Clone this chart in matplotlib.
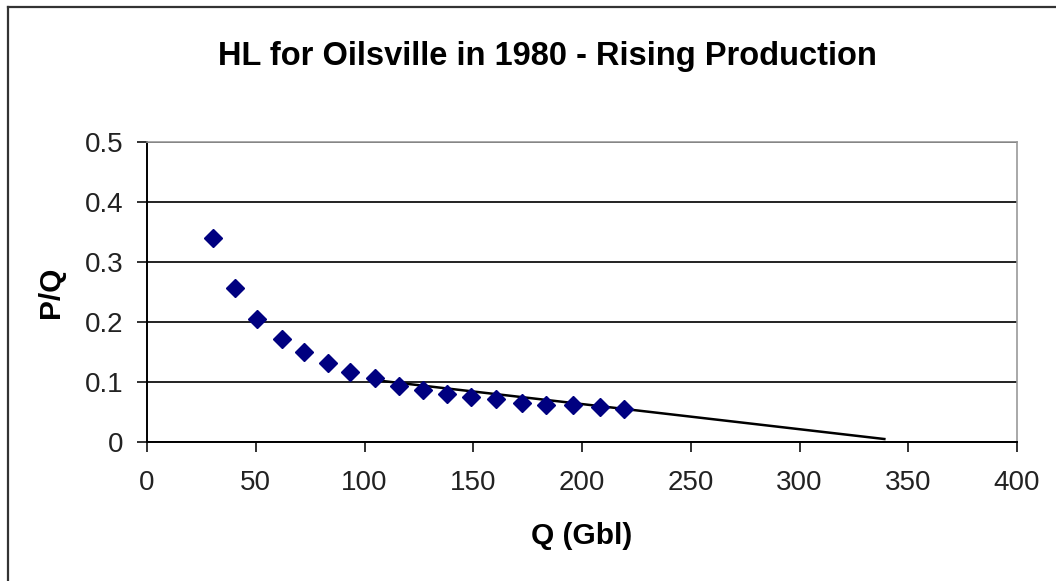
import matplotlib.pyplot as plt
from matplotlib.lines import Line2D

# Cumulative production Q (Gbl) and P/Q ratio
q = [30.5, 40.6, 50.7, 61.9, 72.0, 83.4, 93.3, 104.8, 115.7, 126.7,
     137.8, 149.0, 160.3, 172.4, 183.4, 195.7, 208.3, 219.3]
pq = [0.340, 0.256, 0.205, 0.172, 0.150, 0.131, 0.117, 0.106, 0.093, 0.087,
      0.080, 0.0755, 0.072, 0.065, 0.061, 0.061, 0.059, 0.0545]

# linear fit drawn on the chart
fit_q = [104, 339]
fit_pq = [0.1035, 0.005]

xticks = [0, 50, 100, 150, 200, 250, 300, 350, 400]
yticks = [0, 0.1, 0.2, 0.3, 0.4, 0.5]

plt.rcParams['font.family'] = ['Liberation Sans', 'DejaVu Sans']

fig = plt.figure(figsize=(10.56, 5.81), dpi=100)
ax = fig.add_axes([0.1392, 0.2392, 0.8239, 0.5164])

ax.plot(fit_q, fit_pq, color='black', linewidth=1.8, zorder=3)
ax.plot(q, pq, linestyle='none', marker='D', markersize=9,
        color='#000080', zorder=4)

ax.set_xlim(0, 400)
ax.set_ylim(0, 0.5)
ax.set_xticks(xticks)
ax.set_yticks(yticks)
ax.set_xticklabels([str(v) for v in xticks])
ax.set_yticklabels(['0', '0.1', '0.2', '0.3', '0.4', '0.5'])
ax.yaxis.grid(True, color='#111111', linewidth=1.3)
ax.set_axisbelow(True)

for side in ['top', 'right']:
    ax.spines[side].set_color('#999999')
    ax.spines[side].set_linewidth(1.2)
for side in ['left', 'bottom']:
    ax.spines[side].set_color('black')
    ax.spines[side].set_linewidth(1.4)

ax.tick_params(axis='both', direction='out', length=7, width=1.3,
               labelsize=20, colors='#222222')
ax.tick_params(axis='x', pad=13)
ax.tick_params(axis='y', pad=10)

ax.set_xlabel('Q (Gbl)', fontsize=21.5, fontweight='bold', labelpad=19)
ax.set_ylabel('P/Q', fontsize=21.5, fontweight='bold', labelpad=14)
fig.suptitle('HL for Oilsville in 1980 - Rising Production',
             fontsize=23.5, fontweight='bold', x=0.5185, y=0.93)

# chart-area border (right and bottom edges fall outside the image)
fig.add_artist(Line2D([8 / 1056, 1.0], [1 - 7 / 581, 1 - 7 / 581],
                      color='#333333', linewidth=1.6, transform=fig.transFigure))
fig.add_artist(Line2D([8 / 1056, 8 / 1056], [0.0, 1 - 7 / 581],
                      color='#333333', linewidth=1.6, transform=fig.transFigure))

fig.savefig('out.png', dpi=100)
